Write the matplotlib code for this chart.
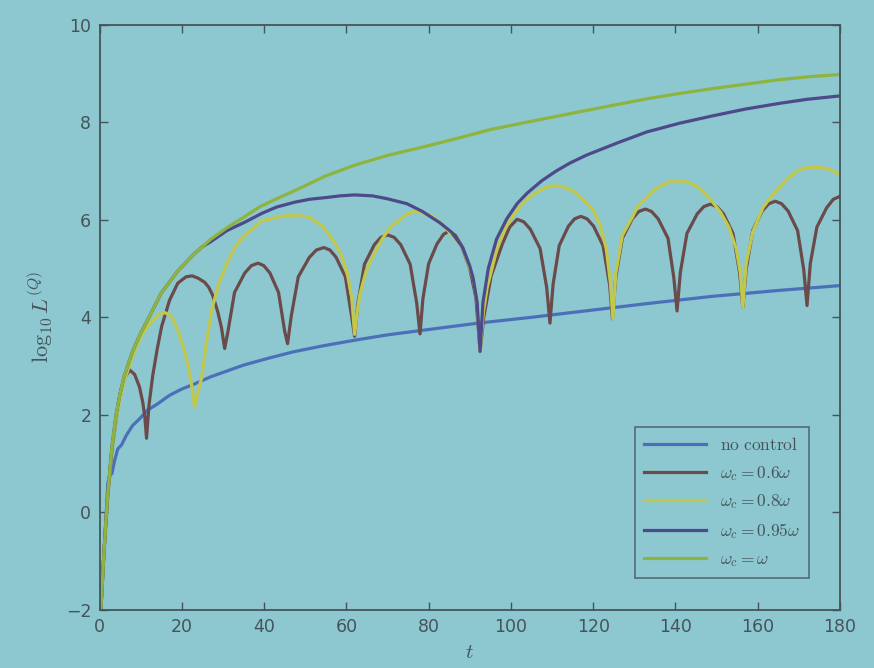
import matplotlib
matplotlib.use("Agg")
import matplotlib.pyplot as plt

# ---------------- data ----------------
t_noctrl = [0.3, 1, 1.5, 2, 2.5, 3, 3.6, 4.4, 5.3, 6.5, 8, 9.5, 11.7, 14, 17, 20, 23, 27, 31, 35,
            41, 47, 54, 62, 70, 80, 92, 105, 117, 133, 149, 165, 180]
y_noctrl = [-2.0, -0.9, -0.2, 0.6, 0.75, 0.8, 1.05, 1.3, 1.38, 1.58, 1.78, 1.9, 2.1, 2.22, 2.4, 2.53,
            2.63, 2.78, 2.9, 3.02, 3.16, 3.29, 3.41, 3.53, 3.64, 3.75, 3.88, 4.0, 4.12, 4.28, 4.43,
            4.55, 4.65]

t_06 = [0.3, 1, 1.5, 2, 3, 4, 4.9, 6, 7.3, 8.5, 9.7, 10.5, 11, 11.4,
        12.0, 12.9, 14, 15.1, 17, 19, 21, 22.5, 24, 25.5, 26.5, 27.5, 28.7, 29.6, 30.4,
        31.2, 32.8, 35.3, 36.9, 38.5, 39.9, 41.4, 43.5, 45.0, 45.7,
        46.6, 48.3, 51.0, 52.7, 54.5, 56.0, 57.5, 59.75, 61.25, 62.0,
        62.8, 64.4, 66.8, 68.4, 70.0, 71.6, 73.2, 75.5, 77.1, 77.9,
        78.6, 80.0, 82.0, 83.6, 85.0, 86.5, 88.0, 90.0, 91.5, 92.5,
        93.4, 95.2, 97.9, 99.7, 101.5, 103.1, 104.7, 107.1, 108.7, 109.5,
        110.25, 111.75, 114.0, 115.5, 117.0, 118.5, 120.1, 122.4, 124.0, 124.7,
        125.5, 127.1, 129.5, 131.1, 132.7, 134.2, 135.8, 138.2, 139.6, 140.4,
        141.2, 142.8, 145.3, 146.9, 148.5, 150.1, 151.7, 154.0, 155.6, 156.4,
        157.2, 158.8, 161.1, 162.7, 164.3, 165.8, 167.4, 169.7, 171.2, 172.0,
        172.8, 174.4, 176.8, 178.4, 180.0]
y_06 = [-2.0, -0.9, -0.25, 0.35, 1.3, 1.9, 2.4, 2.75, 2.92, 2.83, 2.57, 2.25, 1.95, 1.52,
        2.2, 2.8, 3.35, 3.82, 4.35, 4.7, 4.83, 4.85, 4.8, 4.72, 4.62, 4.45, 4.12, 3.8, 3.36,
        3.71, 4.51, 4.91, 5.06, 5.11, 5.06, 4.91, 4.51, 3.71, 3.46,
        4.03, 4.83, 5.23, 5.38, 5.43, 5.38, 5.23, 4.83, 4.03, 3.61,
        4.29, 5.09, 5.49, 5.64, 5.69, 5.64, 5.49, 5.09, 4.29, 3.66,
        4.38, 5.1, 5.5, 5.7, 5.77, 5.68, 5.47, 5.0, 4.4, 3.3,
        4.0, 4.85, 5.5, 5.85, 6.01, 5.96, 5.81, 5.41, 4.61, 3.88,
        4.67, 5.47, 5.87, 6.02, 6.07, 6.02, 5.87, 5.47, 4.67, 3.97,
        4.82, 5.62, 6.02, 6.17, 6.22, 6.17, 6.02, 5.62, 4.82, 4.13,
        4.92, 5.72, 6.12, 6.27, 6.32, 6.27, 6.12, 5.72, 4.92, 4.2,
        4.98, 5.78, 6.18, 6.33, 6.38, 6.33, 6.18, 5.78, 4.98, 4.24,
        5.1, 5.85, 6.25, 6.42, 6.48]

t_08 = [0.3, 1, 1.5, 2, 3, 4, 5, 6, 8, 10, 12, 14, 15.8, 17.5, 19, 20.5, 21.4, 22.3, 23.1,
        24.0, 24.8, 26.0, 27.2, 29.0, 31.1, 33.0, 35.3, 39.4, 44.3, 47.4, 51.0, 54.0, 56.0,
        58.0, 59.3, 60.3, 61.3, 62.0,
        62.6, 63.3, 64.8, 66.4, 68.5, 70.6, 74.7, 77.1, 81.0, 83.0, 85.2, 88.3, 90.8, 91.8, 92.5,
        93.3, 94.2, 96.6, 98.5, 100.5, 103.0, 105.4, 108.0, 110.5, 113.0, 115.5, 118.0, 120.0,
        121.7, 123.2, 124.2, 124.8,
        125.5, 127.1, 129.5, 131.0, 133.0, 135.0, 137.0, 139.0, 141.0, 143.0, 145.0, 147.0,
        149.0, 151.0, 153.0, 154.8, 155.8, 156.4,
        157.2, 158.8, 161.3, 163.5, 165.5, 167.5, 169.6, 171.5, 173.5, 175.5, 177.6, 180.0]
y_08 = [-2.0, -0.9, -0.25, 0.35, 1.3, 1.9, 2.35, 2.7, 3.2, 3.6, 3.85, 4.03, 4.1, 4.02, 3.74,
        3.35, 3.06, 2.65, 2.16,
        2.5, 2.76, 3.5, 4.13, 4.7, 5.13, 5.45, 5.68, 5.98, 6.07, 6.1, 6.05, 5.88, 5.68,
        5.41, 5.15, 4.86, 4.4, 3.65,
        4.1, 4.48, 4.95, 5.24, 5.58, 5.84, 6.12, 6.18, 6.07, 5.93, 5.73, 5.43, 4.81, 4.3, 3.3,
        4.1, 4.6, 5.4, 5.8, 6.08, 6.35, 6.52, 6.65, 6.7, 6.67, 6.57, 6.38, 6.2,
        5.9, 5.4, 4.7, 3.97,
        4.9, 5.68, 6.05, 6.3, 6.45, 6.62, 6.73, 6.79, 6.8, 6.77, 6.7, 6.56,
        6.37, 6.15, 5.85, 5.4, 4.9, 4.2,
        5.1, 5.75, 6.25, 6.5, 6.68, 6.86, 7.0, 7.06, 7.08, 7.07, 7.03, 6.93]

t_095 = [0.3, 1, 1.5, 2, 3, 4, 5, 6, 8, 10, 12, 15, 19, 23, 25, 27, 31, 35.3, 39.4, 43, 47.4,
         51, 55.5, 58.4, 62, 66.4, 70, 74.7, 78.5, 82.7, 85.5, 88.3, 90, 90.8, 91.8, 92.5,
         93.2, 94.5, 96.5, 99, 101.5, 104, 107.5, 111, 114.5, 118.5, 126, 133, 141, 149, 157,
         165.5, 172, 180]
y_095 = [-2.0, -0.9, -0.2, 0.4, 1.35, 2.0, 2.45, 2.8, 3.3, 3.68, 4.0, 4.5, 4.95, 5.3, 5.45,
         5.55, 5.78, 5.95, 6.13, 6.26, 6.36, 6.42, 6.46, 6.49, 6.51, 6.49, 6.43, 6.33, 6.17,
         5.94, 5.75, 5.43, 5.05, 4.81, 4.3, 3.3,
         4.3, 5.0, 5.6, 6.02, 6.33, 6.55, 6.8, 7.0, 7.17, 7.33, 7.58, 7.8, 7.98, 8.13, 8.27,
         8.39, 8.47, 8.54]

t_1 = [0.3, 1, 1.5, 2, 3, 4, 5, 6, 8, 10, 12, 15, 19, 23, 27, 31, 35, 39, 43, 47, 51, 55, 62,
       70, 79, 87, 95, 105, 117, 125, 133, 141, 149, 157, 165, 172, 180]
y_1 = [-2.0, -0.9, -0.2, 0.4, 1.35, 2.0, 2.45, 2.8, 3.3, 3.68, 4.0, 4.5, 4.95, 5.3, 5.6, 5.84,
       6.05, 6.27, 6.43, 6.58, 6.74, 6.9, 7.12, 7.32, 7.5, 7.67, 7.85, 8.02, 8.22, 8.35, 8.48,
       8.59, 8.69, 8.78, 8.87, 8.93, 8.98]

labels = [r'$\mathrm{no\ control}$', r'$\omega_c=0.6\omega$', r'$\omega_c=0.8\omega$',
          r'$\omega_c=0.95\omega$', r'$\omega_c=\omega$']
x_ticks = list(range(0, 181, 20))
y_ticks = list(range(-2, 11, 2))

# ---------------- styling ----------------
plt.rcParams['mathtext.fontset'] = 'cm'
plt.rcParams['font.family'] = ['DejaVu Sans']
bg = '#8DC7D0'
ink = '#44545A'
colors = ['#4A70BA', '#6A4A4A', '#C2C84C', '#4C4A8A', '#8DB43E']

fig = plt.figure(figsize=(8.74, 6.68), dpi=100, facecolor=bg)
ax = fig.add_axes([0.114, 0.087, 0.847, 0.876], facecolor=bg)

series = [(t_noctrl, y_noctrl), (t_06, y_06), (t_08, y_08), (t_095, y_095), (t_1, y_1)]
for (tt, yy), c, lab in zip(series, colors, labels):
    ax.plot(tt, yy, color=c, lw=2.3, label=lab, solid_joinstyle='round')

ax.set_xlim(0, 180)
ax.set_ylim(-2, 10)
ax.set_xticks(x_ticks)
ax.set_yticks(y_ticks)
ax.tick_params(direction='in', top=True, right=True, length=6, width=1.0,
               colors=ink, labelsize=12.5, labelcolor=ink, pad=6)
for s in ax.spines.values():
    s.set_color(ink)
    s.set_linewidth(1.3)

ax.set_xlabel(r'$t$', fontsize=15, color=ink, labelpad=4)
ax.set_ylabel(r'$\log_{10} L^{(Q)}$', fontsize=16, color=ink, labelpad=8)

leg = ax.legend(loc='lower right', bbox_to_anchor=(0.97, 0.04), fontsize=12.5,
                frameon=True, fancybox=False, edgecolor=ink, facecolor=bg,
                handlelength=3.6, borderpad=0.5, labelspacing=0.55)
leg.get_frame().set_linewidth(1.2)
for txt in leg.get_texts():
    txt.set_color(ink)

fig.savefig('out.png', dpi=100, facecolor=bg)
